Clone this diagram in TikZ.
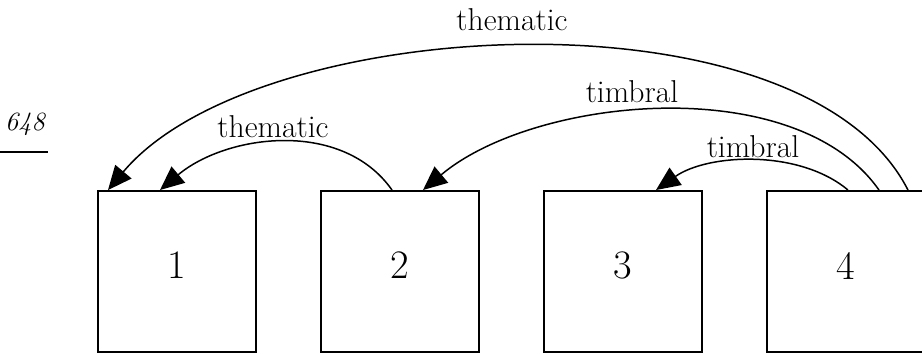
\documentclass[tikz,border=0pt]{standalone}
\usetikzlibrary{arrows.meta}

\begin{document}
\begin{tikzpicture}
\tikzstyle{part}=[rectangle,draw,line width=1.1pt,minimum width=3.17cm,minimum height=3.22cm,text depth=0.24cm,font=\fontsize{23}{27}\selectfont]
\tikzstyle{rel}=[font=\fontsize{18}{21}\selectfont,anchor=base]
\tikzstyle{conn}=[line width=0.85pt,-{Triangle[length=0.48cm,width=0.42cm]}]
\useasboundingbox (0,0) rectangle (18.44,7.06);
\node [font=\fontsize{15}{18}\selectfont\itshape,anchor=base] (page) at (0.5,4.46) {648};
\draw [line width=0.6pt] (0,4.02) -- (0.96,4.02);
\node [part] (b1) at (3.54,1.63) {1};
\node [part] (b2) at (8.0,1.63) {2};
\node [part] (b3) at (12.46,1.63) {3};
\node [part] (b4) at (16.92,1.63) {4};
\draw [conn] ([xshift=1.24cm]b4.north) to[out=117,in=50,looseness=0.74] ([xshift=-1.38cm]b1.north);
\draw [conn] ([xshift=0.66cm]b4.north) to[out=125,in=40,looseness=0.82] ([xshift=0.46cm]b2.north);
\draw [conn] ([xshift=0.04cm]b4.north) to[out=140,in=35,looseness=0.85] ([xshift=0.66cm]b3.north);
\draw [conn] ([xshift=-0.16cm]b2.north) to[out=125,in=40,looseness=0.96] ([xshift=-0.34cm]b1.north);
\node [rel] (them1) at (10.24,6.46) {thematic};
\node [rel] (timb1) at (12.64,5.02) {timbral};
\node [rel] (timb2) at (15.06,3.92) {timbral};
\node [rel] (them2) at (5.46,4.32) {thematic};
\end{tikzpicture}
\end{document}
